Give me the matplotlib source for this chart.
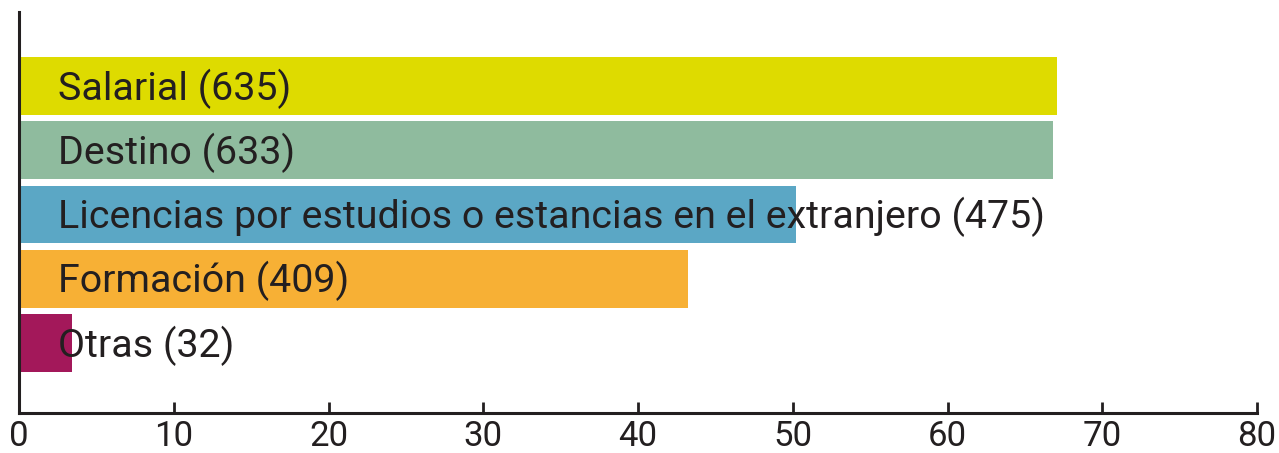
import matplotlib
matplotlib.use("Agg")
import matplotlib.pyplot as plt

labels = ["Salarial (635)", "Destino (633)",
          "Licencias por estudios o estancias en el extranjero (475)",
          "Formación (409)", "Otras (32)"]
values = [67.1, 66.8, 50.2, 43.2, 3.4]
colors = ["#DEDB00", "#8FBB9E", "#5BA7C5", "#F7B035", "#A3185A"]
ticks = [0, 10, 20, 30, 40, 50, 60, 70, 80]

plt.rcParams['font.family'] = ['Roboto', 'DejaVu Sans']
ink = "#231F20"

fig = plt.figure(figsize=(12.79, 4.53), dpi=100)
ax = fig.add_axes([19 / 1279, 40 / 453, 1238 / 1279, 401 / 453])

ypos = list(range(len(labels) - 1, -1, -1))
ax.barh(ypos, values, height=0.9, color=colors, zorder=1)
for y, lab in zip(ypos, labels):
    ax.text(2.5, y - 0.04, lab, va="center", ha="left", fontsize=28.4,
            color=ink, zorder=3)

ax.set_xlim(0, 80)
ax.set_ylim(-1.09, 5.15)
ax.set_xticks(ticks)
ax.set_xticklabels([str(t) for t in ticks], fontsize=25, color=ink)
ax.set_yticks([])
ax.tick_params(axis="x", direction="in", length=8, width=2, color=ink, pad=5)
for s in ["top", "right"]:
    ax.spines[s].set_visible(False)
for s in ["left", "bottom"]:
    ax.spines[s].set_linewidth(2.2)
    ax.spines[s].set_color(ink)
    ax.spines[s].set_zorder(4)

fig.savefig("out.png", dpi=100)
